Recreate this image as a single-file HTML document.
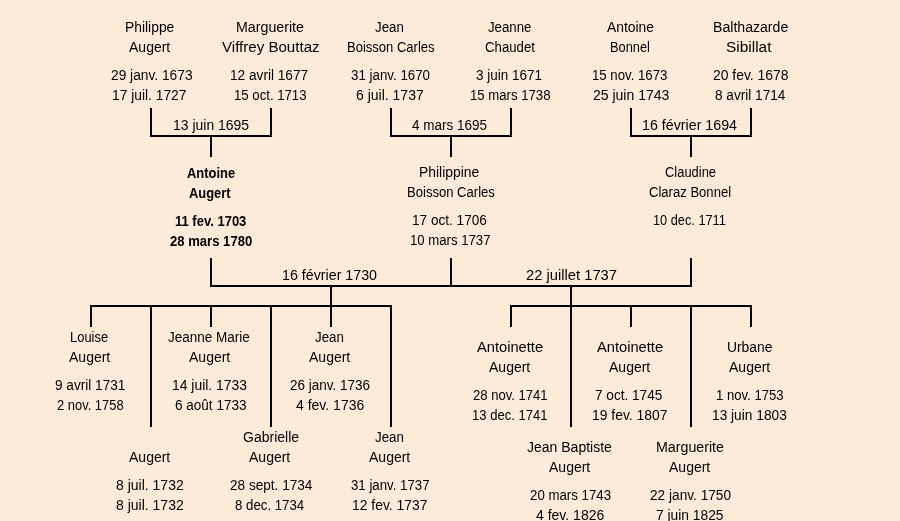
<!DOCTYPE html>
<html><head><meta charset="utf-8"><style>
html,body{margin:0;padding:0;}
body{width:900px;height:521px;overflow:hidden;background:#FCEBD9;position:relative;font-family:"Liberation Sans",sans-serif;font-size:14px;color:#000;}
.t{position:absolute;transform-origin:0 0;height:20px;line-height:20px;white-space:nowrap;}
#w{position:absolute;left:0;top:0;width:900px;height:521px;will-change:transform;}
.b{font-weight:bold;font-size:15px;}
.l{position:absolute;background:#000;}
</style></head><body>
<div class="l" style="left:150px;top:108px;width:2px;height:29px"></div>
<div class="l" style="left:270px;top:108px;width:2px;height:29px"></div>
<div class="l" style="left:150px;top:135px;width:122px;height:2px"></div>
<div class="l" style="left:210px;top:137px;width:2px;height:20px"></div>
<div class="l" style="left:390px;top:108px;width:2px;height:29px"></div>
<div class="l" style="left:510px;top:108px;width:2px;height:29px"></div>
<div class="l" style="left:390px;top:135px;width:122px;height:2px"></div>
<div class="l" style="left:450px;top:137px;width:2px;height:20px"></div>
<div class="l" style="left:630px;top:108px;width:2px;height:29px"></div>
<div class="l" style="left:750px;top:108px;width:2px;height:29px"></div>
<div class="l" style="left:630px;top:135px;width:122px;height:2px"></div>
<div class="l" style="left:690px;top:137px;width:2px;height:20px"></div>
<div class="l" style="left:210px;top:258px;width:2px;height:29px"></div>
<div class="l" style="left:450px;top:258px;width:2px;height:29px"></div>
<div class="l" style="left:690px;top:258px;width:2px;height:29px"></div>
<div class="l" style="left:210px;top:285px;width:482px;height:2px"></div>
<div class="l" style="left:330px;top:287px;width:2px;height:40px"></div>
<div class="l" style="left:90px;top:305px;width:302px;height:2px"></div>
<div class="l" style="left:90px;top:305px;width:2px;height:22px"></div>
<div class="l" style="left:210px;top:305px;width:2px;height:22px"></div>
<div class="l" style="left:150px;top:305px;width:2px;height:122px"></div>
<div class="l" style="left:270px;top:305px;width:2px;height:122px"></div>
<div class="l" style="left:390px;top:305px;width:2px;height:122px"></div>
<div class="l" style="left:570px;top:287px;width:2px;height:140px"></div>
<div class="l" style="left:510px;top:305px;width:242px;height:2px"></div>
<div class="l" style="left:510px;top:305px;width:2px;height:22px"></div>
<div class="l" style="left:630px;top:305px;width:2px;height:22px"></div>
<div class="l" style="left:750px;top:305px;width:2px;height:22px"></div>
<div class="l" style="left:690px;top:305px;width:2px;height:122px"></div>
<div id="w">
<div class="t" id="i0" style="left:125.01px;top:17.15px;transform:scaleX(0.9900)">Philippe</div>
<div class="t" id="i1" style="left:129.00px;top:37.15px;transform:scaleX(1.0004)">Augert</div>
<div class="t" id="i2" style="left:110.52px;top:65.15px;transform:scaleX(0.9821)">29 janv. 1673</div>
<div class="t" id="i3" style="left:112.27px;top:85.15px;transform:scaleX(0.9865)">17 juil. 1727</div>
<div class="t" id="i4" style="left:236.23px;top:17.15px;transform:scaleX(1.0152)">Marguerite</div>
<div class="t" id="i5" style="left:222.23px;top:37.15px;transform:scaleX(1.0778)">Viffrey Bouttaz</div>
<div class="t" id="i6" style="left:230.28px;top:65.15px;transform:scaleX(0.9747)">12 avril 1677</div>
<div class="t" id="i7" style="left:234.06px;top:85.15px;transform:scaleX(0.9411)">15 oct. 1713</div>
<div class="t" id="i8" style="left:375.27px;top:17.15px;transform:scaleX(0.9505)">Jean</div>
<div class="t" id="i9" style="left:346.61px;top:37.15px;transform:scaleX(0.9302)">Boisson Carles</div>
<div class="t" id="i10" style="left:350.52px;top:65.15px;transform:scaleX(0.9518)">31 janv. 1670</div>
<div class="t" id="i11" style="left:355.50px;top:85.15px;transform:scaleX(1.0002)">6 juil. 1737</div>
<div class="t" id="i12" style="left:488.26px;top:17.15px;transform:scaleX(0.9464)">Jeanne</div>
<div class="t" id="i13" style="left:484.53px;top:37.15px;transform:scaleX(0.9434)">Chaudet</div>
<div class="t" id="i14" style="left:476.26px;top:65.15px;transform:scaleX(0.9633)">3 juin 1671</div>
<div class="t" id="i15" style="left:469.58px;top:85.15px;transform:scaleX(0.9406)">15 mars 1738</div>
<div class="t" id="i16" style="left:607.00px;top:17.15px;transform:scaleX(0.9898)">Antoine</div>
<div class="t" id="i17" style="left:610.34px;top:37.15px;transform:scaleX(0.9169)">Bonnel</div>
<div class="t" id="i18" style="left:591.79px;top:65.15px;transform:scaleX(0.9431)">15 nov. 1673</div>
<div class="t" id="i19" style="left:592.50px;top:85.15px;transform:scaleX(1.0001)">25 juin 1743</div>
<div class="t" id="i20" style="left:713.23px;top:17.15px;transform:scaleX(1.0070)">Balthazarde</div>
<div class="t" id="i21" style="left:726.35px;top:37.15px;transform:scaleX(1.1011)">Sibillat</div>
<div class="t" id="i22" style="left:712.50px;top:65.15px;transform:scaleX(0.9937)">20 fev. 1678</div>
<div class="t" id="i23" style="left:714.51px;top:85.15px;transform:scaleX(0.9722)">8 avril 1714</div>
<div class="t" id="i24" style="left:172.50px;top:115.15px;transform:scaleX(0.9974)">13 juin 1695</div>
<div class="t" id="i25" style="left:412.39px;top:115.15px;transform:scaleX(0.9642)">4 mars 1695</div>
<div class="t" id="i26" style="left:642.09px;top:115.15px;transform:scaleX(1.0175)">16 février 1694</div>
<div class="t b" id="i27" style="left:186.70px;top:162.80px;transform:scaleX(0.8610)">Antoine</div>
<div class="t b" id="i28" style="left:189.00px;top:182.80px;transform:scaleX(0.8589)">Augert</div>
<div class="t b" id="i29" style="left:175.06px;top:210.80px;transform:scaleX(0.8669)">11 fev. 1703</div>
<div class="t b" id="i30" style="left:170.00px;top:230.80px;transform:scaleX(0.8724)">28 mars 1780</div>
<div class="t" id="i31" style="left:419.41px;top:162.15px;transform:scaleX(0.9934)">Philippine</div>
<div class="t" id="i32" style="left:406.68px;top:182.15px;transform:scaleX(0.9334)">Boisson Carles</div>
<div class="t" id="i33" style="left:412.13px;top:210.15px;transform:scaleX(0.9711)">17 oct. 1706</div>
<div class="t" id="i34" style="left:409.97px;top:230.15px;transform:scaleX(0.9406)">10 mars 1737</div>
<div class="t" id="i35" style="left:664.53px;top:162.15px;transform:scaleX(0.9239)">Claudine</div>
<div class="t" id="i36" style="left:649.08px;top:182.15px;transform:scaleX(0.9334)">Claraz Bonnel</div>
<div class="t" id="i37" style="left:653.47px;top:210.15px;transform:scaleX(0.9114)">10 dec. 1711</div>
<div class="t" id="i38" style="left:282.09px;top:265.15px;transform:scaleX(1.0175)">16 février 1730</div>
<div class="t" id="i39" style="left:525.82px;top:265.15px;transform:scaleX(1.0536)">22 juillet 1737</div>
<div class="t" id="i40" style="left:69.82px;top:327.15px;transform:scaleX(0.9255)">Louise</div>
<div class="t" id="i41" style="left:68.76px;top:347.15px;transform:scaleX(1.0004)">Augert</div>
<div class="t" id="i42" style="left:54.51px;top:375.15px;transform:scaleX(0.9722)">9 avril 1731</div>
<div class="t" id="i43" style="left:57.00px;top:395.15px;transform:scaleX(0.9237)">2 nov. 1758</div>
<div class="t" id="i44" style="left:168.26px;top:327.15px;transform:scaleX(0.9646)">Jeanne Marie</div>
<div class="t" id="i45" style="left:188.76px;top:347.15px;transform:scaleX(1.0004)">Augert</div>
<div class="t" id="i46" style="left:172.26px;top:375.15px;transform:scaleX(0.9933)">14 juil. 1733</div>
<div class="t" id="i47" style="left:175.00px;top:395.15px;transform:scaleX(0.9665)">6 août 1733</div>
<div class="t" id="i48" style="left:315.27px;top:327.15px;transform:scaleX(0.9505)">Jean</div>
<div class="t" id="i49" style="left:308.76px;top:347.15px;transform:scaleX(1.0004)">Augert</div>
<div class="t" id="i50" style="left:290.00px;top:375.15px;transform:scaleX(0.9639)">26 janv. 1736</div>
<div class="t" id="i51" style="left:295.50px;top:395.15px;transform:scaleX(1.0002)">4 fev. 1736</div>
<div class="t" id="i52" style="left:128.76px;top:447.15px;transform:scaleX(1.0004)">Augert</div>
<div class="t" id="i53" style="left:116.26px;top:475.15px;transform:scaleX(1.0002)">8 juil. 1732</div>
<div class="t" id="i54" style="left:116.26px;top:495.15px;transform:scaleX(1.0002)">8 juil. 1732</div>
<div class="t" id="i55" style="left:242.50px;top:427.15px;transform:scaleX(1.0002)">Gabrielle</div>
<div class="t" id="i56" style="left:248.76px;top:447.15px;transform:scaleX(1.0004)">Augert</div>
<div class="t" id="i57" style="left:229.52px;top:475.15px;transform:scaleX(0.9707)">28 sept. 1734</div>
<div class="t" id="i58" style="left:235.00px;top:495.15px;transform:scaleX(0.9454)">8 dec. 1734</div>
<div class="t" id="i59" style="left:375.27px;top:427.15px;transform:scaleX(0.9505)">Jean</div>
<div class="t" id="i60" style="left:368.76px;top:447.15px;transform:scaleX(1.0004)">Augert</div>
<div class="t" id="i61" style="left:350.53px;top:475.15px;transform:scaleX(0.9459)">31 janv. 1737</div>
<div class="t" id="i62" style="left:351.75px;top:495.15px;transform:scaleX(0.9936)">12 fev. 1737</div>
<div class="t" id="i63" style="left:477.00px;top:337.15px;transform:scaleX(1.0476)">Antoinette</div>
<div class="t" id="i64" style="left:488.76px;top:357.15px;transform:scaleX(1.0004)">Augert</div>
<div class="t" id="i65" style="left:473.27px;top:385.15px;transform:scaleX(0.9314)">28 nov. 1741</div>
<div class="t" id="i66" style="left:472.34px;top:405.15px;transform:scaleX(0.9314)">13 dec. 1741</div>
<div class="t" id="i67" style="left:597.00px;top:337.15px;transform:scaleX(1.0476)">Antoinette</div>
<div class="t" id="i68" style="left:608.76px;top:357.15px;transform:scaleX(1.0004)">Augert</div>
<div class="t" id="i69" style="left:595.26px;top:385.15px;transform:scaleX(0.9712)">7 oct. 1745</div>
<div class="t" id="i70" style="left:592.26px;top:405.15px;transform:scaleX(0.9935)">19 fev. 1807</div>
<div class="t" id="i71" style="left:726.54px;top:337.15px;transform:scaleX(0.9896)">Urbane</div>
<div class="t" id="i72" style="left:728.76px;top:357.15px;transform:scaleX(1.0004)">Augert</div>
<div class="t" id="i73" style="left:716.06px;top:385.15px;transform:scaleX(0.9367)">1 nov. 1753</div>
<div class="t" id="i74" style="left:711.77px;top:405.15px;transform:scaleX(0.9801)">13 juin 1803</div>
<div class="t" id="i75" style="left:527.49px;top:437.15px;transform:scaleX(1.0001)">Jean Baptiste</div>
<div class="t" id="i76" style="left:548.76px;top:457.15px;transform:scaleX(1.0004)">Augert</div>
<div class="t" id="i77" style="left:530.00px;top:485.15px;transform:scaleX(0.9472)">20 mars 1743</div>
<div class="t" id="i78" style="left:535.50px;top:505.15px;transform:scaleX(1.0002)">4 fev. 1826</div>
<div class="t" id="i79" style="left:656.23px;top:437.15px;transform:scaleX(1.0152)">Marguerite</div>
<div class="t" id="i80" style="left:668.76px;top:457.15px;transform:scaleX(1.0004)">Augert</div>
<div class="t" id="i81" style="left:649.51px;top:485.15px;transform:scaleX(0.9759)">22 janv. 1750</div>
<div class="t" id="i82" style="left:655.50px;top:505.15px;transform:scaleX(0.9855)">7 juin 1825</div>
</div>
</body></html>
